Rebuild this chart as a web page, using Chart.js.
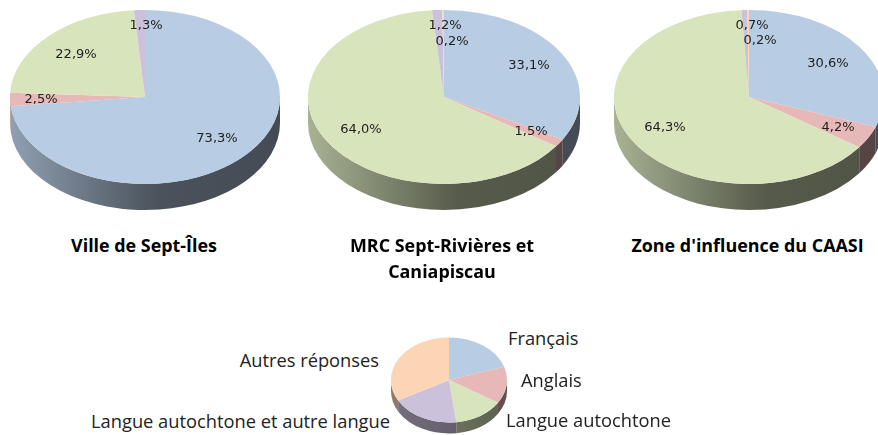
<!DOCTYPE html>
<html lang="fr"><head><meta charset="utf-8">
<script src="https://cdn.jsdelivr.net/npm/chart.js@4"></script>
<style>
html,body{margin:0;padding:0;background:#fff;width:878px;height:435px;overflow:hidden}
#page{position:relative;width:878px;height:435px;overflow:hidden}
canvas{position:absolute}
.t{position:absolute;font-family:"Open Sans",sans-serif;color:#000;white-space:nowrap;line-height:1}
.title{font-weight:700;font-size:17.9px;letter-spacing:0;transform:translateX(-50%);text-align:center;line-height:26px}
.leg{font-size:18.3px;color:#222}
</style></head><body><div id="page"></div>
<script>
const categories = ['Français','Anglais','Langue autochtone','Langue autochtone et autre langue','Autres réponses'];
const villeValues = [73.3,2.5,22.9,1.3,0];
const mrcValues = [33.1,1.5,64.0,1.2,0.2];
const zoneValues = [30.6,4.2,64.3,0.7,0.2];
const legendValues = [20,14,14,19,33];
const titles = ['Ville de Sept-Îles','MRC Sept-Rivières et<br>Caniapiscau',"Zone d'influence du CAASI"];
const sliceColors = [[184,204,228],[230,185,184],[216,228,188],[204,193,218],[252,213,181]];

// label centres relative to each pie's centre
const villeLabelPos = [[72,42],[-104,3],[-69,-42],[1,-71],null];
const mrcLabelPos = [[85,-31],[87,35],[-83,33],[1,-71],[8,-55]];
const zoneLabelPos = [[79,-33],[89,31],[-84,31],[3,-71],[11,-56]];

const rgb=(c,f)=>`rgb(${c.map(v=>Math.round(v*f)).join(',')})`;
const pie3d={
  id:'pie3d',
  beforeDatasetDraw(chart,args,o){
    const ctx=chart.ctx, arcs=chart.getDatasetMeta(0).data;
    const {x:cx,y:cy,outerRadius:r}=arcs[0];
    const ry=r*o.ratio;
    arcs.forEach((a,i)=>{
      if(a.endAngle-a.startAngle<=0) return;
      // visible wall = front half, canvas angles 0..PI
      for(const shift of [0,-2*Math.PI]){
        const s=Math.max(a.startAngle+shift,0), e=Math.min(a.endAngle+shift,Math.PI);
        if(e<=s) continue;
        const g=ctx.createLinearGradient(cx-r,0,cx+r,0);
        o.stops.forEach(([p,f])=>g.addColorStop(p,rgb(sliceColors[i],f)));
        ctx.beginPath();
        ctx.ellipse(cx,cy,r,ry,0,s,e,false);
        ctx.ellipse(cx,cy+o.depth,r,ry,0,e,s,true);
        ctx.closePath();
        ctx.fillStyle=g; ctx.fill();
      }
    });
    ctx.save();
    ctx.translate(cx,cy);ctx.scale(1,o.ratio);ctx.translate(-cx,-cy);
    arcs.forEach(a=>a.draw(ctx));
    ctx.restore();
    return false;
  },
  afterDatasetsDraw(chart,args,o){
    if(!o.labels) return;
    const ctx=chart.ctx, a0=chart.getDatasetMeta(0).data[0];
    ctx.save();
    ctx.font='13px "DejaVu Sans"';ctx.fillStyle='#222';
    ctx.textAlign='center';ctx.textBaseline='middle';
    chart.data.datasets[0].data.forEach((v,i)=>{
      if(!o.labels[i]) return;
      ctx.fillText(v.toFixed(1).replace('.',',')+'%',a0.x+o.labels[i][0],a0.y+o.labels[i][1]);
    });
    ctx.restore();
  }
};
const page=document.getElementById('page');
function makePie(values,cx,cy,rx,ry,depth,stops,labels){
  const c=document.createElement('canvas');
  c.width=c.height=rx*2;
  c.style.left=(cx-rx)+'px';c.style.top=(cy-rx)+'px';
  page.appendChild(c);
  new Chart(c,{type:'pie',plugins:[pie3d],data:{labels:categories,datasets:[{data:values,
      backgroundColor:sliceColors.map(s=>rgb(s,1)),borderWidth:0}]},
    options:{responsive:false,animation:false,layout:{padding:0},events:[],
      plugins:{legend:{display:false},tooltip:{enabled:false},
        pie3d:{ratio:ry/rx,depth,stops,labels}}}});
}
const bigStops=[[0,.78],[.55,.4],[1,.37]];
makePie(villeValues,145,97,135,87,26,bigStops,villeLabelPos);
makePie(mrcValues,444,97,136,87,26,bigStops,mrcLabelPos);
makePie(zoneValues,749,97,135,87,26,bigStops,zoneLabelPos);
makePie(legendValues,449,380,58,42.5,11,[[0,.58],[1,.42]],null);

function text(html,cls,css){
  const d=document.createElement('div');d.className='t '+cls;d.innerHTML=html;
  Object.assign(d.style,css);page.appendChild(d);
}
text(titles[0],'title',{left:'144px',top:'232px'});
text(titles[1],'title',{left:'442px',top:'232px'});
text(titles[2],'title',{left:'747.5px',top:'232px'});
text(categories[0],'leg',{left:'508px',top:'329px'});
text(categories[1],'leg',{left:'521px',top:'371px'});
text(categories[2],'leg',{left:'506px',top:'411px'});
text(categories[3],'leg',{right:(878-390)+'px',top:'412px'});
text(categories[4],'leg',{right:(878-379)+'px',top:'351px'});
</script></body></html>
